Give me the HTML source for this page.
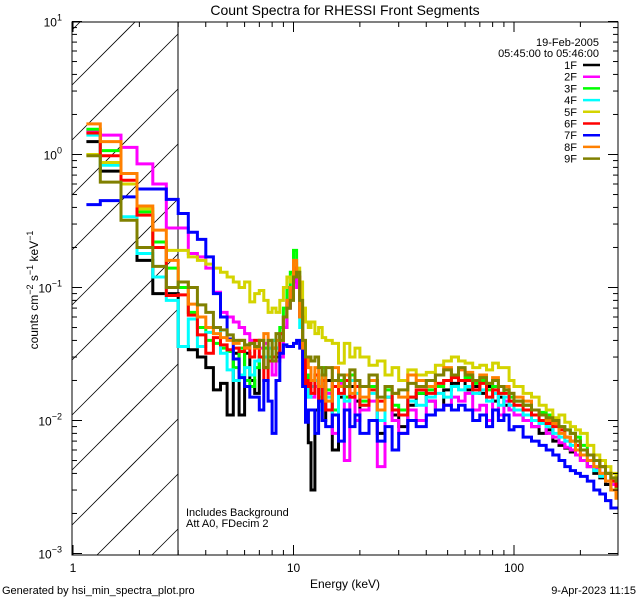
<!DOCTYPE html>
<html><head><meta charset="utf-8"><style>
html,body{margin:0;padding:0;background:#fff;overflow:hidden;width:640px;height:600px;}
svg{display:block;}
svg text{font-family:"Liberation Sans",sans-serif;fill:#000;}
</style></head><body>
<svg id="chart" width="640" height="600" viewBox="0 0 640 600" xmlns="http://www.w3.org/2000/svg">
<rect width="640" height="600" fill="#fff"/>
<defs><clipPath id="plotclip"><rect x="72" y="22" width="546" height="533"/></clipPath></defs>
<g id="hatch"></g>
<line x1="178" y1="22" x2="178" y2="555" stroke="#000" stroke-width="1"/>
<g id="series" clip-path="url(#plotclip)"></g>
<rect x="72" y="22" width="546" height="533" fill="none" stroke="#000" stroke-width="1"/>
<g id="axes"></g>
<text x="345" y="15" font-size="14" text-anchor="middle">Count Spectra for RHESSI Front Segments</text>
<text x="345" y="588" font-size="12" text-anchor="middle">Energy (keV)</text>
<text transform="translate(38,290) rotate(-90)" font-size="12" text-anchor="middle">counts cm<tspan dy="-5" font-size="9">−2</tspan><tspan dy="5"> s</tspan><tspan dy="-5" font-size="9">−1</tspan><tspan dy="5"> keV</tspan><tspan dy="-5" font-size="9">−1</tspan></text>
<text x="599" y="46" font-size="11" text-anchor="end">19-Feb-2005</text>
<text x="599" y="57" font-size="11" text-anchor="end">05:45:00 to 05:46:00</text>
<text x="186" y="516" font-size="11">Includes Background</text>
<text x="186" y="527" font-size="11">Att A0, FDecim 2</text>
<text x="2" y="594" font-size="11">Generated by hsi_min_spectra_plot.pro</text>
<text x="636" y="594" font-size="11" text-anchor="end">9-Apr-2023 11:15</text>
<g id="legend"></g>
</svg>
<script>
const edges=[1.15,1.33,1.65,1.95,2.3,2.65,3.0,3.333,3.667,4.0,4.333,4.667,5.0,5.333,5.667,6.0,6.333,6.667,7.0,7.333,7.667,8.0,8.333,8.667,9.0,9.333,9.667,10.0,10.333,10.667,11.0,11.333,11.667,12.0,12.5,13,13.5,14,15,16,17,18,19,20,22,24,26,28,30,33,36,40,44,48,52,56,60,65,70,75,80,85,90,95,100,110,120,130,140,150,160,170,180,190,200,215,230,245,260,275,290,300];
const segNames=["1F","2F","3F","4F","5F","6F","7F","8F","9F"];
const s1F=[1.25,0.75,0.6,0.16,0.09,0.09,.036,.034,.03,.025,.017,.019,.011,.032,.011,.032,.02,.016,.03,.025,.03,.035,.03,.045,.05,.07,.1,.12,.11,.07,.035,.012,.0068,.003,.012,.018,.01,.02,.006,.015,.022,.018,.014,.012,.02,.008,.015,.011,.009,.013,.016,.014,.012,.017,.019,.02,.017,.018,.016,.018,.014,.015,.013,.012,.011,.01,.009,.008,.0085,.007,.0065,.0062,.0058,.0055,.005,.0045,.004,.0037,.0033,.003,.0028];
const s2F=[1.5,1.4,1.13,0.85,0.6,0.28,.28,.18,.17,.14,.092,.065,.06,.055,.05,.045,.04,.04,.035,.038,.03,.022,.028,.03,.05,.07,.09,.13,.1,.06,.03,.02,.015,.015,.018,.012,.02,.016,.008,.019,.005,.015,.01,.012,.014,.0045,.015,.01,.008,.012,.01,.014,.012,.013,.015,.014,.016,.012,.013,.01,.016,.011,.014,.012,.011,.01,.009,.0095,.008,.0075,.0068,.0063,.006,.0055,.005,.0045,.0043,.004,.0035,.0033,.003];
const s3F=[1.55,1.07,0.6,0.37,0.22,0.14,.1,.065,.05,.04,.038,.035,.033,.025,.035,.02,.018,.025,.03,.035,.03,.04,.035,.05,.07,.1,.13,.19,.13,.07,.035,.022,.018,.02,.022,.015,.025,.017,.012,.02,.015,.022,.018,.014,.018,.012,.017,.013,.012,.015,.016,.017,.018,.02,.022,.02,.021,.019,.02,.017,.018,.016,.017,.015,.014,.013,.012,.0115,.011,.0095,.009,.0085,.008,.0075,.0065,.0055,.005,.0045,.004,.0035,.003];
const s4F=[1.4,0.83,0.34,0.18,0.12,0.08,.036,.058,.036,.046,.05,.032,.024,.02,.022,.025,.022,.028,.03,.03,.035,.04,.035,.045,.06,.08,.1,.16,.12,.05,.025,.02,.015,.018,.02,.012,.022,.015,.011,.018,.014,.02,.016,.013,.016,.01,.015,.012,.011,.014,.013,.015,.016,.015,.018,.017,.018,.016,.017,.014,.016,.013,.015,.013,.012,.011,.01,.0095,.009,.008,.0075,.007,.0065,.006,.0055,.005,.0042,.0038,.0035,.003,.0028];
const s5F=[1.0,0.87,0.6,0.39,0.2,0.19,.19,.17,.16,.15,.14,.13,.12,.11,.1,.11,.078,.09,.095,.08,.065,.07,.065,.08,.1,.12,.11,.15,.14,.11,.07,.055,.05,.055,.045,.05,.042,.04,.038,.027,.038,.03,.035,.03,.026,.028,.022,.025,.02,.024,.022,.023,.026,.028,.03,.028,.027,.025,.026,.024,.027,.025,.025,.02,.018,.016,.015,.013,.012,.0105,.011,.0097,.009,.0085,.008,.0065,.0055,.005,.0045,.004,.0038];
const s6F=[1.45,0.98,0.64,0.35,0.2,0.087,.088,.062,.044,.032,.042,.037,.034,.035,.033,.035,.03,.04,.03,.02,.028,.03,.032,.045,.06,.08,.1,.14,.12,.06,.03,.018,.02,.016,.022,.014,.02,.012,.018,.016,.02,.015,.018,.013,.017,.014,.018,.012,.011,.015,.017,.016,.019,.02,.021,.02,.02,.017,.019,.015,.017,.016,.016,.014,.013,.012,.011,.01,.0095,.009,.0085,.0075,.007,.0065,.006,.0055,.005,.0045,.004,.0035,.0032];
const s7F=[0.42,0.45,0.48,0.55,0.55,0.46,.36,.26,.23,.17,.09,.06,.041,.029,.021,.018,.015,.015,.012,.02,.014,.008,.02,.032,.037,.036,.036,.038,.04,.035,.018,.0097,.012,.012,.008,.014,.01,.009,.011,.007,.012,.009,.011,.008,.01,.007,.009,.006,.008,.01,.009,.011,.012,.013,.012,.013,.012,.01,.011,.009,.012,.01,.011,.0085,.009,.0075,.007,.0065,.006,.0055,.005,.0045,.0042,.004,.0038,.0035,.003,.0028,.0025,.0022,.0022];
const s8F=[1.7,1.25,0.72,0.41,0.27,0.16,.11,.075,.06,.05,.045,.042,.04,.038,.04,.035,.038,.035,.04,.045,.04,.035,.04,.04,.06,.08,.1,.16,.12,.06,.035,.03,.025,.02,.025,.018,.022,.014,.025,.018,.022,.016,.02,.015,.02,.012,.018,.016,.015,.022,.02,.018,.022,.025,.022,.024,.023,.02,.022,.019,.021,.018,.018,.016,.015,.014,.012,.011,.01,.0095,.008,.0075,.007,.006,.0055,.005,.0045,.004,.0035,.003,.0026];
const s9F=[0.98,0.62,0.32,0.2,0.144,0.1,.11,.1,.074,.065,.05,.048,.044,.04,.04,.037,.038,.036,.04,.025,.04,.028,.045,.04,.06,.07,.08,.12,.13,.08,.04,.03,.03,.028,.03,.025,.022,.025,.02,.022,.018,.024,.02,.018,.022,.015,.018,.016,.017,.019,.018,.02,.022,.024,.022,.025,.022,.02,.021,.019,.02,.018,.017,.016,.014,.013,.012,.011,.0105,.01,.009,.0085,.008,.007,.006,.0055,.005,.0045,.004,.0037,.0035];
const seriesValues=[s1F,s2F,s3F,s4F,s5F,s6F,s7F,s8F,s9F];
const xTickValues=[1,10,100];
const xTickLabels=["1","10","100"];
const yTickExps=[-3,-2,-1,0,1];

const colors=["#000000","#ff00ff","#00ff00","#00ffff","#d4d400","#ff0000","#0000ff","#ff8000","#808000"];
const NS="http://www.w3.org/2000/svg";
const X0=73,XD=220.5,Y0=154.5,YD=133;
function xs(e){return X0+XD*Math.log10(e);}
function ys(v){return Y0-YD*Math.log10(v);}
function mk(tag,attrs,parent){const el=document.createElementNS(NS,tag);for(const k in attrs)el.setAttribute(k,attrs[k]);parent.appendChild(el);return el;}

// hatch lines, clipped analytically to [72,178]x[22,555]; y = c - (x-72)
const hatch=document.getElementById('hatch');
const HX0=72,HX1=178,HY0=22,HY1=555;
for(let k=-4;k<14;k++){
 const c=85+k*55;
 let xa=Math.max(HX0, HX0+(c-HY1)), xb=Math.min(HX1, HX0+(c-HY0));
 if(xb<=xa)continue;
 const ya=c-(xa-HX0), yb=c-(xb-HX0);
 const ln=mk('line',{x1:xa,y1:ya,x2:xb,y2:yb,stroke:'#000','stroke-width':0.8},hatch);
 
 
}

const sg=document.getElementById('series');
seriesValues.forEach((vals,i)=>{
 let d='';
 for(let b=0;b<vals.length;b++){
  const x1=xs(edges[b]).toFixed(1),x2=Math.min(618,xs(edges[b+1])).toFixed(1),y=ys(vals[b]).toFixed(1);
  d+=(b===0?'M':'L')+x1+','+y+'L'+x2+','+y;
 }
 const p=mk('path',{d:d,fill:'none',stroke:colors[i],'stroke-width':3,'stroke-linejoin':'miter'},sg);
 
 
});

const ax=document.getElementById('axes');
for(let dec=0;dec<3;dec++){
 for(let m=1;m<10;m++){
  const e=Math.pow(10,dec)*m; const x=xs(e); if(x>618)continue;
  const L=m===1?10:5;
  const t1=mk('line',{x1:x,y1:555,x2:x,y2:555-L,stroke:'#000'},ax);
  
  
  const t2=mk('line',{x1:x,y1:22,x2:x,y2:22+L,stroke:'#000'},ax);
  
  
 }
}
xTickValues.forEach((v,i)=>{
 const t=mk('text',{x:xs(v),y:572,'font-size':12,'text-anchor':'middle'},ax);t.textContent=xTickLabels[i];
 
 
});
yTickExps.forEach(ex=>{
 for(let m=1;m<10;m++){
  if(ex===1&&m>1)break;
  const y=ys(m*Math.pow(10,ex)); const L=m===1?10:5;
  const a=mk('line',{x1:72,y1:y,x2:72+L,y2:y,stroke:'#000'},ax);
  
  
  const b=mk('line',{x1:618,y1:y,x2:618-L,y2:y,stroke:'#000'},ax);
  
  
 }
 const t=mk('text',{x:62,y:ys(Math.pow(10,ex))+5,'font-size':12,'text-anchor':'end'},ax);
 t.textContent='10';
 const sp=mk('tspan',{dy:-6,'font-size':9},t);sp.textContent=String(ex).replace('-','−');
 
 
});

const lg=document.getElementById('legend');
segNames.forEach((n,i)=>{
 const y=65+i*11.7;
 const g=mk('g',{},lg);
 
 
 const t=mk('text',{x:577,y:y+4,'font-size':11,'text-anchor':'end'},g);t.textContent=n;
 mk('line',{x1:583,y1:y,x2:600,y2:y,stroke:colors[i],'stroke-width':2.5},g);
});
</script>
</body></html>
